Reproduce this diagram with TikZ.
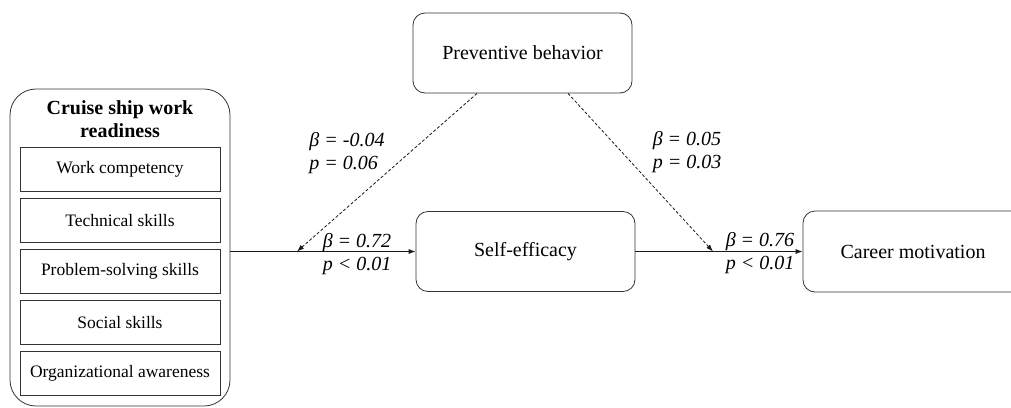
\documentclass[tikz,border=0pt]{standalone}
\usepackage{fontspec}
\setmainfont{Liberation Serif}
\usetikzlibrary{arrows.meta,calc}
\tikzset{
  box/.style={draw=black!80, line width=0.8pt, rounded corners=12pt, inner sep=0pt,
    font=\fontsize{20}{23}\selectfont},
  subbox/.style={draw=black!80, line width=0.8pt, inner sep=0pt, minimum width=200pt,
    minimum height=44pt, font=\fontsize{17.5}{20}\selectfont},
  lab/.style={font=\fontsize{20}{23}\selectfont\itshape, align=left, inner sep=0pt},
  path/.style={draw=black!90, line width=0.8pt, -{Latex[length=7pt,width=5pt]}},
  dpath/.style={path, dash pattern=on 3pt off 2pt},
}
\begin{document}
\begin{tikzpicture}[x=1pt,y=-1pt]
\useasboundingbox (0,0) rectangle (1011,407);
% outer construct
\node[box, rounded corners=26pt, minimum width=220pt, minimum height=317pt] (crw) at (120,247.5) {};
\node[font=\fontsize{20}{23}\selectfont\bfseries, align=center, inner sep=0pt] (crwt) at (120,119) {Cruise ship work\\readiness};
\node[subbox] (s1) at (120,169.5) {Work competency};
\node[subbox] (s2) at (120,220.5) {Technical skills};
\node[subbox] (s3) at (120,271.5) {Problem-solving skills};
\node[subbox] (s4) at (120,322.5) {Social skills};
\node[subbox] (s5) at (120,373.5) {Organizational awareness};
% other constructs
\node[box, minimum width=219pt, minimum height=80pt] (pb) at (522.5,53) {Preventive behavior};
\node[box, minimum width=219pt, minimum height=80pt] (se) at (525.5,251.5) {Self-efficacy};
\node[box, minimum width=260pt, minimum height=81pt] (cm) at (933,251.5) {\hspace*{-40pt}Career motivation};
% main paths
\coordinate (a1) at (crw.east |- se.west);
\draw[path] (a1) -- (se.west);
\draw[path] (se.east) -- (cm.west);
% moderation paths
\coordinate (m1) at (297,251.5);
\coordinate (m2) at (713,251.5);
\draw[dpath] ($(pb.south)+(-45.5,0)$) -- (m1);
\draw[dpath] ($(pb.south)+(45.5,0)$) -- (m2);
% labels
\node[lab] (l1) at (347,153) {β = -0.04\\p = 0.06};
\node[lab] (l2) at (687,152) {β = 0.05\\p = 0.03};
\node[lab] (l3) at (357,254) {β = 0.72\\p < 0.01};
\node[lab] (l4) at (760,253) {β = 0.76\\p < 0.01};
\end{tikzpicture}
\end{document}
